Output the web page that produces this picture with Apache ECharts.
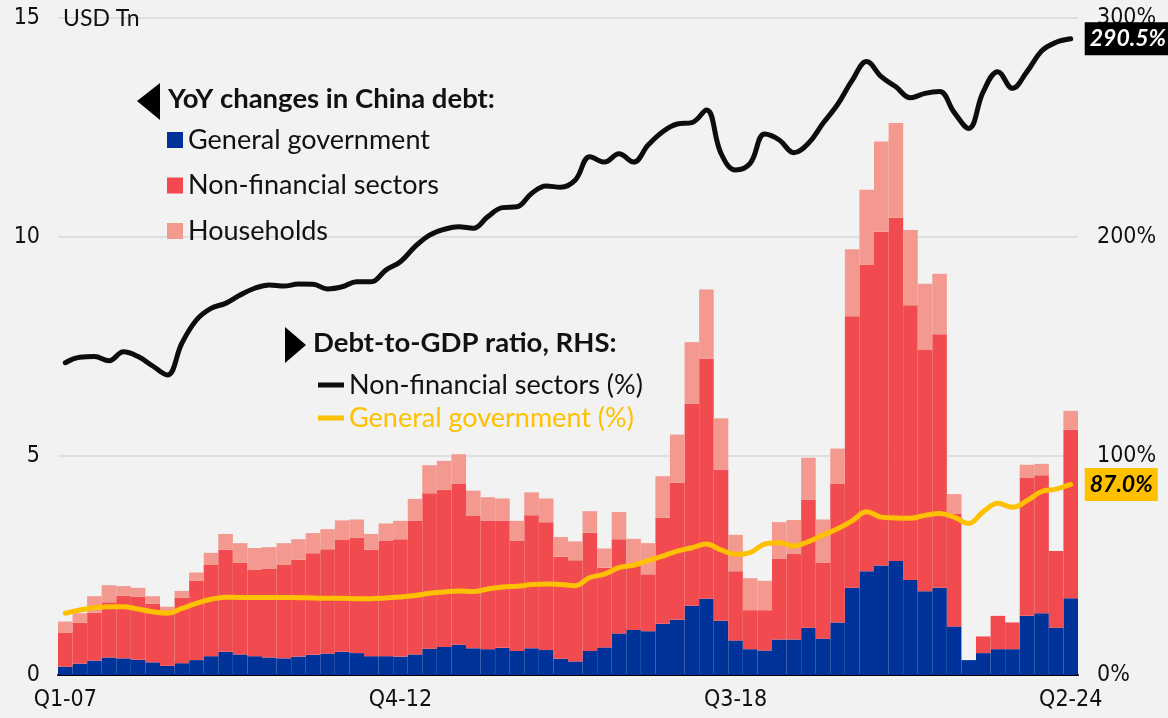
<!DOCTYPE html>
<html>
<head>
<meta charset="utf-8">
<title>China debt</title>
<script src="https://cdn.jsdelivr.net/npm/echarts@6/dist/echarts.min.js"></script>
<style>
  html, body { margin: 0; padding: 0; background: #F2F2F2; }
  #chart { width: 1168px; height: 718px; }
</style>
</head>
<body>
<div id="chart"></div>
<script>
// Quarterly categories Q1-07 ... Q2-24
const quarters = [];
for (let y = 7; y <= 24; y++) {
  for (let q = 1; q <= 4; q++) {
    if (y === 24 && q > 2) break;
    quarters.push('Q' + q + '-' + String(y).padStart(2, '0'));
  }
}

// YoY changes in debt, USD Tn (stacked bars)
const generalGovernment = [
  0.19, 0.26, 0.33, 0.40, 0.38, 0.35, 0.29, 0.21, 0.27, 0.34,
  0.43, 0.53, 0.47, 0.43, 0.40, 0.38, 0.42, 0.46, 0.49, 0.53,
  0.50, 0.43, 0.43, 0.42, 0.47, 0.60, 0.64, 0.69, 0.61, 0.59,
  0.62, 0.55, 0.61, 0.57, 0.37, 0.31, 0.55, 0.63, 0.95, 1.03,
  1.00, 1.17, 1.26, 1.58, 1.74, 1.24, 0.79, 0.59, 0.56, 0.81,
  0.81, 1.08, 0.83, 1.20, 1.99, 2.37, 2.50, 2.60, 2.17, 1.91,
  1.99, 1.11, 0.34, 0.50, 0.59, 0.59, 1.35, 1.41, 1.08, 1.75
];
const nonFinancialSectors = [
  0.78, 0.93, 1.09, 1.26, 1.43, 1.44, 1.34, 1.25, 1.49, 1.81,
  2.09, 2.33, 2.09, 1.98, 2.03, 2.13, 2.21, 2.32, 2.38, 2.55,
  2.63, 2.43, 2.64, 2.68, 3.05, 3.55, 3.59, 3.68, 3.02, 2.94,
  2.90, 2.52, 3.04, 2.92, 2.33, 2.31, 2.70, 1.82, 2.15, 1.48,
  1.30, 2.42, 3.13, 4.62, 5.48, 3.45, 1.58, 0.89, 0.92, 1.85,
  1.95, 2.92, 1.73, 3.17, 6.20, 7.00, 7.62, 7.84, 6.27, 5.51,
  5.79, 2.58, -0.06, 0.38, 0.76, 0.61, 3.16, 3.15, 1.75, 3.85
];
const households = [
  0.25, 0.22, 0.38, 0.39, 0.22, 0.20, 0.17, 0.10, 0.16, 0.19,
  0.27, 0.36, 0.45, 0.49, 0.49, 0.50, 0.47, 0.46, 0.46, 0.45,
  0.42, 0.36, 0.39, 0.42, 0.50, 0.64, 0.66, 0.67, 0.58, 0.53,
  0.51, 0.45, 0.52, 0.54, 0.45, 0.43, 0.49, 0.44, 0.62, 0.60,
  0.71, 0.95, 1.10, 1.40, 1.58, 1.17, 0.83, 0.73, 0.67, 0.83,
  0.78, 0.96, 0.99, 0.80, 1.53, 1.71, 2.06, 2.16, 1.72, 1.51,
  1.38, 0.44, 0.00, -0.04, -0.04, -0.04, 0.29, 0.26, 0.00, 0.43
];

// Debt-to-GDP ratios, % (right-hand scale)
const ratioNonFinancial = [
  142.6, 145.1, 145.4, 143.5, 147.6, 145.4, 141.1, 137.0, 151.5, 162.1,
  167.4, 169.7, 173.5, 176.6, 178.1, 177.6, 178.5, 178.4, 176.3, 177.3,
  179.6, 179.6, 184.9, 188.7, 195.6, 200.9, 203.5, 204.7, 204.0, 209.3,
  213.4, 213.8, 219.9, 223.3, 222.7, 226.0, 236.7, 234.2, 238.0, 234.2,
  242.0, 248.1, 251.6, 252.2, 258.0, 238.2, 230.6, 233.6, 247.0, 244.3,
  238.5, 242.8, 251.9, 260.5, 271.5, 280.1, 273.2, 268.6, 263.6, 265.6,
  266.4, 256.9, 249.6, 266.4, 275.5, 267.9, 275.5, 284.9, 288.9, 290.5
];
const ratioGovernment = [
  28.2, 29.7, 30.7, 31.2, 31.2, 30.1, 28.9, 28.2, 30.4, 32.7,
  34.6, 35.5, 35.4, 35.4, 35.4, 35.4, 35.3, 35.2, 35.0, 35.0,
  34.8, 34.8, 35.2, 35.6, 36.3, 37.3, 37.9, 38.4, 38.1, 39.3,
  40.2, 40.5, 41.3, 41.6, 41.3, 40.8, 44.5, 46.1, 49.0, 50.1,
  52.2, 54.3, 56.6, 58.1, 59.8, 57.1, 55.1, 55.9, 59.8, 60.4,
  58.9, 60.9, 63.9, 66.8, 70.4, 74.6, 72.1, 71.7, 71.6, 72.9,
  73.7, 72.1, 69.2, 74.6, 78.4, 76.6, 79.6, 83.8, 84.9, 87.0
];

// Axis ticks
const leftTicks = { min: 0, max: 15, interval: 5 };
const rightTicks = { min: 0, max: 300, interval: 100 };
const labelEvery = 23; // Q1-07, Q4-12, Q3-18, Q2-24

const BLUE = '#003399';
const RED = '#F24B4F';
const PINK = '#F3998F';
const BLACK = '#0D0D0D';
const YELLOW = '#FFC000';

const TEXT_FONT = 'Lato, "Open Sans", sans-serif';
const TICK_FONT = '"Liberation Sans Narrow", "DejaVu Sans Condensed", "Liberation Sans", sans-serif';

const chart = echarts.init(document.getElementById('chart'), null, { renderer: 'canvas' });

const barItem = (name, data, color) => ({
  name, type: 'bar', stack: 'debt', data,
  barCategoryGap: '0%',
  itemStyle: { color },
  emphasis: { disabled: true }
});

const lineItem = (name, data, color, label) => ({
  name, type: 'line', yAxisIndex: 1, data,
  smooth: 0.4, showSymbol: false, z: 5,
  lineStyle: { color, width: 5, cap: 'round' },
  itemStyle: { color },
  emphasis: { disabled: true },
  endLabel: {
    show: true,
    distance: 14,
    formatter: p => Number(p.value).toFixed(1) + '%',
    fontFamily: TEXT_FONT,
    fontSize: 23,
    fontWeight: 'bold',
    fontStyle: 'italic',
    padding: [5, 5, 5, 5],
    ...label
  }
});

chart.setOption({
  backgroundColor: '#F2F2F2',
  animation: false,
  grid: { left: 58, right: 90, top: 18, bottom: 43, containLabel: false },
  legend: [
    {
      data: ['General government', 'Non-financial sectors', 'Households'],
      orient: 'vertical', left: 162, top: 121,
      icon: 'rect', itemWidth: 16, itemHeight: 16, itemGap: 17.5,
      selectedMode: false,
      textStyle: { fontFamily: TEXT_FONT, fontSize: 27, color: '#111', lineHeight: 28 }
    },
    {
      data: [
        { name: 'Non-financial sectors (%)' },
        { name: 'General government (%)', textStyle: { color: YELLOW } }
      ],
      orient: 'vertical', left: 313, top: 366,
      icon: 'path://M0,0H26V5H0Z', itemWidth: 26, itemHeight: 5, itemGap: 5,
      selectedMode: false,
      textStyle: { fontFamily: TEXT_FONT, fontSize: 27, color: '#111', lineHeight: 28 }
    }
  ],
  graphic: [
    { type: 'text', left: 63, top: 7, z: 10,
      style: { text: 'USD Tn', font: '23px ' + TEXT_FONT, fill: '#111' } },
    { type: 'polygon', z: 10, shape: { points: [[137, 101], [160, 83], [160, 120]] }, style: { fill: '#000' } },
    { type: 'text', left: 168, top: 85, z: 10,
      style: { text: 'YoY changes in China debt:', font: 'bold 27.5px ' + TEXT_FONT, fill: '#111' } },
    { type: 'polygon', z: 10, shape: { points: [[285, 327], [285, 363], [306, 345]] }, style: { fill: '#000' } },
    { type: 'text', left: 313, top: 329, z: 10,
      style: { text: 'Debt-to-GDP ratio, RHS:', font: 'bold 27.5px ' + TEXT_FONT, fill: '#111' } }
  ],
  xAxis: {
    type: 'category',
    data: quarters,
    boundaryGap: true,
    axisLine: { lineStyle: { color: '#000', width: 2 } },
    axisTick: { interval: labelEvery - 1, length: 7, lineStyle: { color: '#000', width: 1.5 } },
    axisLabel: {
      interval: labelEvery - 1,
      margin: 14,
      fontFamily: TICK_FONT, fontSize: 23, color: '#111'
    },
    splitLine: { show: false }
  },
  yAxis: [
    {
      type: 'value', ...leftTicks,
      axisLine: { show: false }, axisTick: { show: false },
      axisLabel: { margin: 18, fontFamily: TICK_FONT, fontSize: 23, color: '#111' },
      splitLine: { lineStyle: { color: '#D9D9D9', width: 1.5 } }
    },
    {
      type: 'value', ...rightTicks, position: 'right',
      axisLine: { show: false }, axisTick: { show: false },
      axisLabel: { margin: 19, fontFamily: TICK_FONT, fontSize: 23, color: '#111', formatter: '{value}%' },
      splitLine: { show: false }
    }
  ],
  series: [
    barItem('General government', generalGovernment, BLUE),
    barItem('Non-financial sectors', nonFinancialSectors, RED),
    barItem('Households', households, PINK),
    lineItem('Non-financial sectors (%)', ratioNonFinancial, BLACK, { color: '#fff', backgroundColor: '#000' }),
    lineItem('General government (%)', ratioGovernment, YELLOW, { color: '#000', backgroundColor: YELLOW })
  ]
});
</script>
</body>
</html>
